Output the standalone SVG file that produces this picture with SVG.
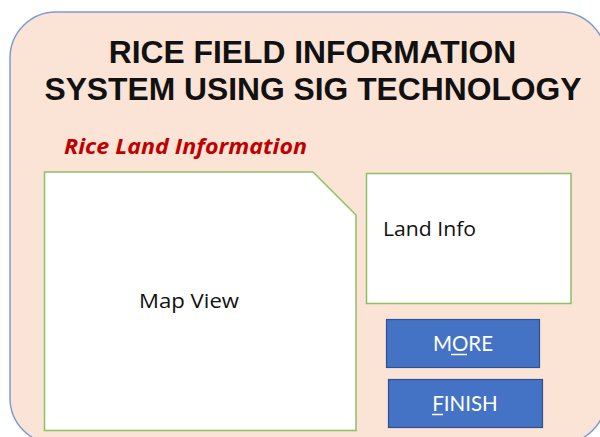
<svg xmlns="http://www.w3.org/2000/svg" width="600" height="437" viewBox="0 0 600 437">
  <style>
    .panel { fill: #ffffff; stroke: #8cc063; stroke-width: 1.5; }
    .btn { fill: #4472c4; stroke: #2f528f; stroke-width: 1.2; }
    .title { font-family: "Liberation Sans", Arial, sans-serif; font-weight: bold; font-size: 31.8px; fill: #111111; text-anchor: middle; }
    .label { font-family: "Open Sans", Lato, sans-serif; font-size: 20px; fill: #111111; }
    .btntext { font-family: Lato, "Open Sans", sans-serif; font-size: 20.5px; fill: #ffffff; text-anchor: middle; }
    .ul { stroke: #ffffff; stroke-width: 1.5; }
  </style>

  <!-- window background -->
  <rect x="0" y="0" width="600" height="437" fill="#ffffff"/>
  <rect id="window" x="10" y="12" width="596" height="432" rx="46" ry="46" fill="#fbe4d6" stroke="#7c9cd6" stroke-width="1.5"/>

  <text class="title" x="312.5" y="63">RICE FIELD INFORMATION</text>
  <text class="title" x="313" y="100">SYSTEM USING SIG TECHNOLOGY</text>

  <text x="64" y="154" font-family="'Open Sans', Lato, sans-serif" font-size="21.5" font-weight="bold" font-style="italic" fill="#c00000" textLength="243" lengthAdjust="spacingAndGlyphs">Rice Land Information</text>

  <g id="map-view">
    <polygon class="panel" points="44.5,172 313,172 356,215 356,430.5 44.5,430.5"/>
    <text class="label" x="139" y="308" textLength="100" lengthAdjust="spacingAndGlyphs">Map View</text>
  </g>

  <g id="land-info">
    <rect class="panel" x="366.5" y="173.5" width="204.5" height="130"/>
    <text class="label" x="383" y="236" textLength="93" lengthAdjust="spacingAndGlyphs">Land Info</text>
  </g>

  <g id="btn-more">
    <rect class="btn" x="386.5" y="319.5" width="153" height="48"/>
    <text class="btntext" x="463" y="351">MORE</text>
    <line class="ul" x1="451" y1="354.5" x2="467" y2="354.5"/>
  </g>

  <g id="btn-finish">
    <rect class="btn" x="388.5" y="379.5" width="154" height="48"/>
    <text class="btntext" x="465" y="411">FINISH</text>
    <line class="ul" x1="432" y1="414.5" x2="443" y2="414.5"/>
  </g>

  <g id="connectors"/>
</svg>
